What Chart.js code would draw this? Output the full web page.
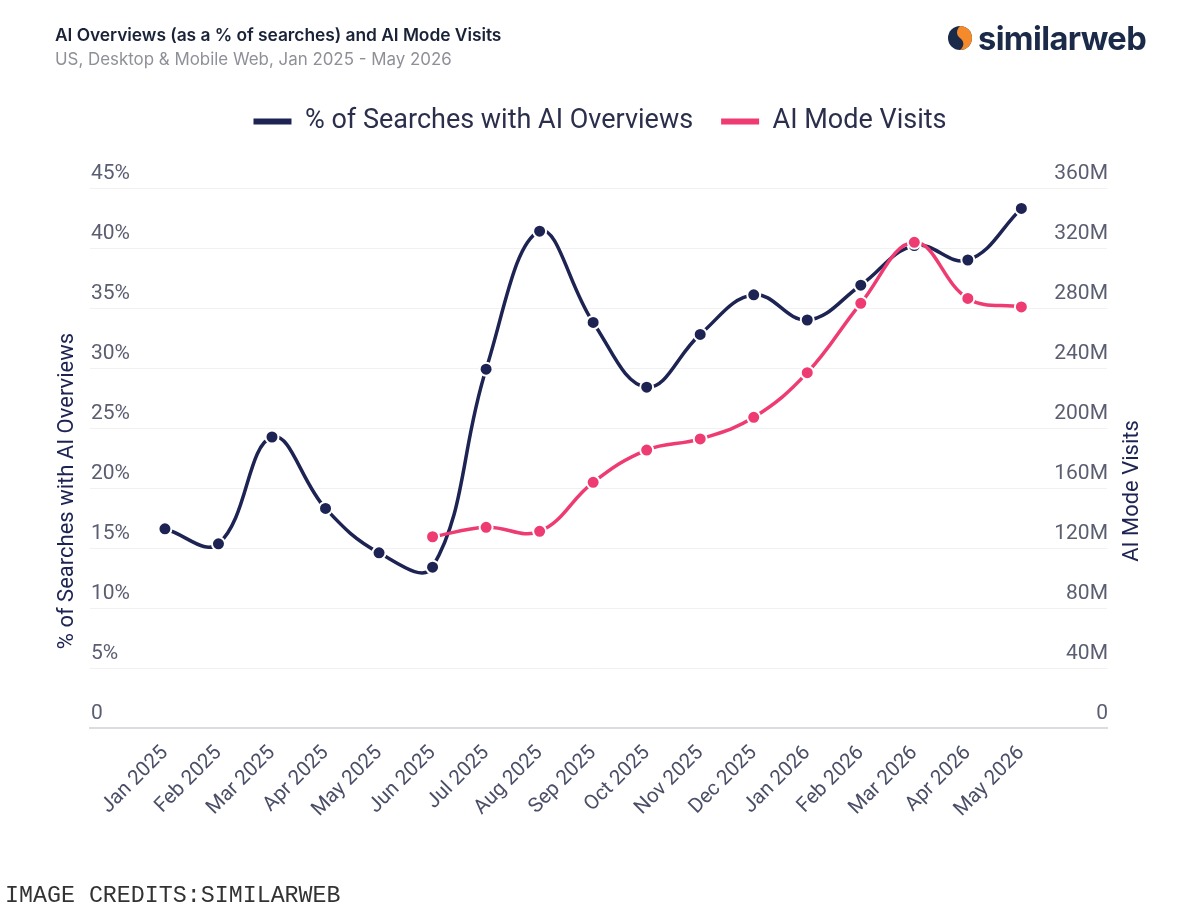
<!DOCTYPE html>
<html>
<head>
<meta charset="utf-8">
<script src="https://cdn.jsdelivr.net/npm/chart.js@4.4.1/dist/chart.umd.min.js"></script>
<style>
  html, body { margin: 0; padding: 0; background: #ffffff; }
  #wrap { position: relative; width: 1200px; height: 923px; overflow: hidden; }
  #chartBox { position: absolute; left: 0; top: 0; width: 1200px; height: 923px; }
  .title { position: absolute; left: 55px; top: 24px; font: 600 17.4px Inter, "Noto Sans", sans-serif; color: #1a2238; letter-spacing: -0.05px; white-space: nowrap; }
  .subtitle { position: absolute; left: 55px; top: 49px; font: 400 16.9px Inter, "Noto Sans", sans-serif; color: #8e9097; white-space: nowrap; }
  .logo { position: absolute; left: 947px; top: 19px; display: flex; align-items: center; white-space: nowrap; }
  .logo span { font: 700 32.6px Inter, "Noto Sans", sans-serif; color: #1b2a48; letter-spacing: -0.6px; margin-left: 5px; line-height: 38px; }
  .credit { position: absolute; left: 5px; top: 883px; font: 400 23.3px "Liberation Mono", "DejaVu Sans Mono", monospace; color: #333333; white-space: nowrap; }
</style>
</head>
<body>
<div id="wrap">
  <div id="chartBox"><canvas id="c"></canvas></div>
  <div class="title">AI Overviews (as a % of searches) and AI Mode Visits</div>
  <div class="subtitle">US, Desktop &amp; Mobile Web, Jan 2025 - May 2026</div>
  <div class="logo">
    <svg width="26" height="26" viewBox="0 0 26 26">
      <circle cx="13" cy="13" r="12" fill="#1b2a48"/>
      <path d="M13 1 A12 12 0 0 1 13 25 C18 21 17 16 13 13 C9 10 9 5 13 1 Z" fill="#f58a2b"/>
    </svg>
    <span>similarweb</span>
  </div>
  <div class="credit">IMAGE CREDITS:SIMILARWEB</div>
</div>
<script>
// ---- data ----
const months = ['Jan 2025','Feb 2025','Mar 2025','Apr 2025','May 2025','Jun 2025','Jul 2025','Aug 2025','Sep 2025','Oct 2025','Nov 2025','Dec 2025','Jan 2026','Feb 2026','Mar 2026','Apr 2026','May 2026'];
const aiOverviewsPct = [16.6, 15.35, 24.25, 18.3, 14.6, 13.4, 29.9, 41.4, 33.8, 28.4, 32.8, 36.1, 34.0, 36.9, 40.2, 39.0, 43.3];
const aiModeVisitsM = [null, null, null, null, null, 127.5, 133.8, 131.1, 163.8, 185.3, 192.7, 207.1, 236.9, 283.1, 323.8, 286.4, 280.7];
const leftTickLabels = ['0','5%','10%','15%','20%','25%','30%','35%','40%','45%'];
const rightTickLabels = ['0','40M','80M','120M','160M','200M','240M','280M','320M','360M'];
const seriesNames = ['% of Searches with AI Overviews', 'AI Mode Visits'];
const leftAxisTitle = '% of Searches with AI Overviews';
const rightAxisTitle = 'AI Mode Visits';

const NAVY = '#1d2352';
const PINK = '#ee3b72';

const toPoints = arr => arr.map((v, i) => ({ x: i, y: v }));

const axisTitlePlugin = {
  id: 'axisTitlePlugin',
  afterDraw(chart) {
    const { ctx, chartArea } = chart;
    const cy = (chartArea.top + chartArea.bottom) / 2 + 33;
    [[leftAxisTitle, chartArea.left - 23], [rightAxisTitle, chartArea.right + 25]].forEach(([txt, x]) => {
      ctx.save();
      ctx.font = '400 22px Roboto';
      ctx.fillStyle = NAVY;
      ctx.textAlign = 'center';
      ctx.textBaseline = 'middle';
      ctx.translate(x, cy);
      ctx.rotate(-Math.PI / 2);
      ctx.fillText(txt, 0, 0);
      ctx.restore();
    });
  }
};

const legendHeightPlugin = {
  id: 'legendHeightPlugin',
  beforeInit(chart) {
    const lg = chart.legend;
    if (!lg) return;
    const orig = lg.fit;
    lg.fit = function () { orig.call(this); this.height = 108; };
  }
};

const zeroPad = s => { s.paddingTop = 0; s.paddingBottom = 0; s.paddingLeft = 0; s.paddingRight = 0; };

const lineStyle = color => ({
  borderColor: color,
  backgroundColor: color,
  borderWidth: 3.5,
  tension: 0.4,
  pointRadius: 6.5,
  pointBorderWidth: 2,
  pointBorderColor: '#ffffff',
  pointBackgroundColor: color
});

new Chart(document.getElementById('c'), {
  type: 'line',
  data: {
    datasets: [
      Object.assign({ label: seriesNames[0], data: toPoints(aiOverviewsPct), yAxisID: 'yL', order: 2 }, lineStyle(NAVY)),
      Object.assign({ label: seriesNames[1], data: toPoints(aiModeVisitsM), yAxisID: 'yR', order: 1 }, lineStyle(PINK))
    ]
  },
  options: {
    responsive: true,
    maintainAspectRatio: false,
    animation: false,
    layout: { padding: { top: 80, left: 0, right: 0, bottom: 0 } },
    plugins: {
      tooltip: { enabled: false },
      legend: {
        position: 'top',
        labels: {
          font: { family: 'Roboto', size: 27, weight: '400' },
          color: '#2b2f4c',
          boxWidth: 38,
          boxHeight: 6,
          padding: 28,
          sort: (a, b) => a.datasetIndex - b.datasetIndex,
          generateLabels(chart) {
            const items = Chart.defaults.plugins.legend.labels.generateLabels(chart);
            return items.map(it => Object.assign(it, { lineWidth: 0, fillStyle: it.strokeStyle }));
          }
        }
      }
    },
    scales: {
      x: {
        type: 'linear',
        min: -1.4,
        max: 17.6,
        afterBuildTicks: s => { s.ticks = months.map((m, i) => ({ value: i })); },
        afterFit: s => { s.height = 195; zeroPad(s); },
        grid: { display: false },
        border: { display: true, color: '#dcdce0', width: 2 },
        ticks: {
          autoSkip: false,
          minRotation: 45,
          maxRotation: 45,
          padding: 5,
          font: { family: 'Roboto', size: 20.5 },
          color: '#4a4e66',
          callback: v => months[v]
        }
      },
      yL: {
        position: 'left',
        min: 0,
        max: 45,
        afterBuildTicks: s => { s.ticks = leftTickLabels.map((t, i) => ({ value: i * 5 })); },
        afterFit: s => { s.width = 90; zeroPad(s); },
        grid: { color: '#f1f1f4', lineWidth: 1, drawTicks: false },
        border: { display: false },
        ticks: {
          mirror: true,
          padding: 1,
          labelOffset: -14,
          font: { family: 'Roboto', size: 21 },
          color: '#5a5e70',
          callback: (v, i) => leftTickLabels[i]
        }
      },
      yR: {
        position: 'right',
        min: 0,
        max: 360,
        afterBuildTicks: s => { s.ticks = rightTickLabels.map((t, i) => ({ value: i * 40 })); },
        afterFit: s => { s.width = 93; zeroPad(s); },
        grid: { drawOnChartArea: false, drawTicks: false },
        border: { display: false },
        ticks: {
          mirror: true,
          padding: 1,
          labelOffset: -14,
          font: { family: 'Roboto', size: 21 },
          color: '#5a5e70',
          callback: (v, i) => rightTickLabels[i]
        }
      }
    }
  },
  plugins: [legendHeightPlugin, axisTitlePlugin]
});
</script>
</body>
</html>
